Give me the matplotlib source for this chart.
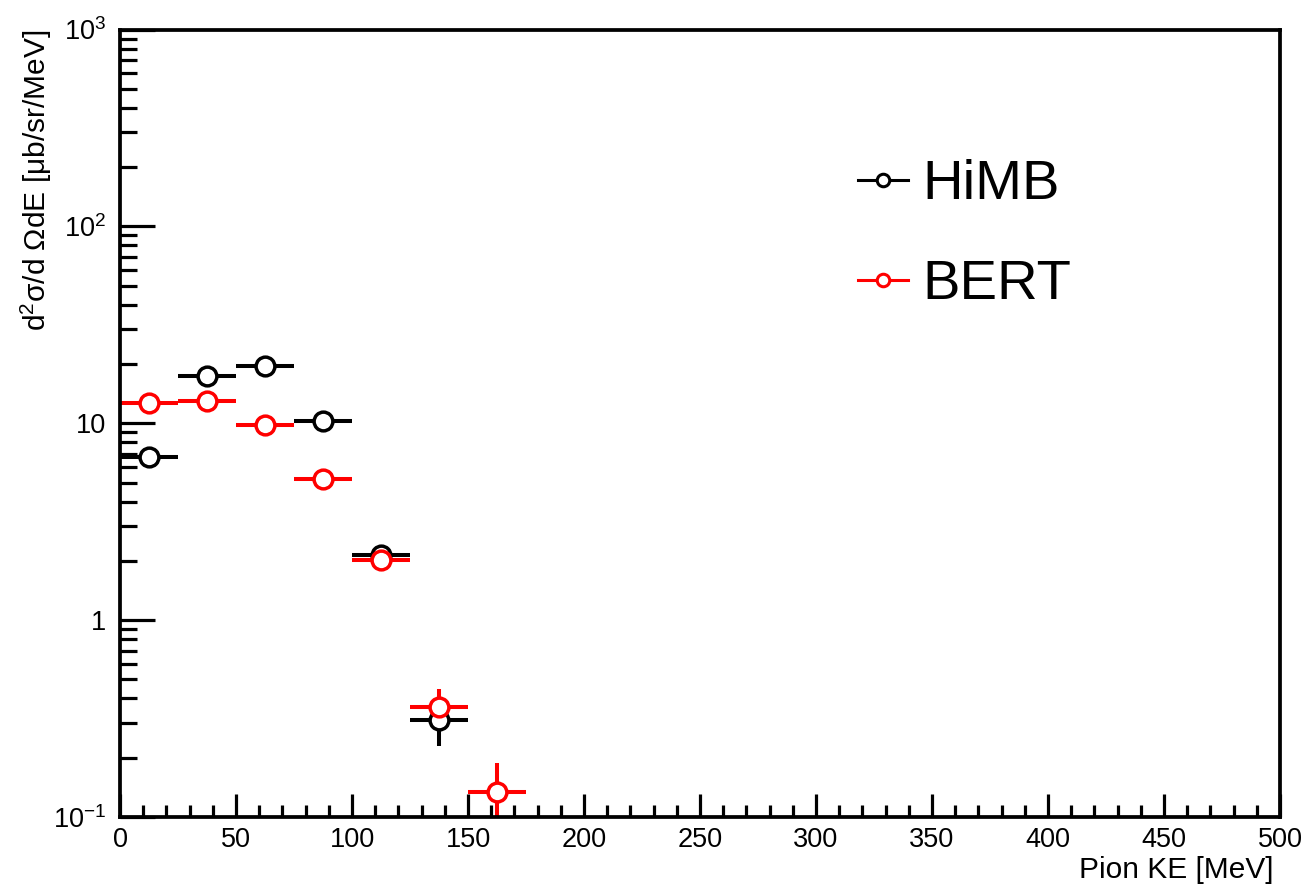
import matplotlib
matplotlib.use("Agg")
import matplotlib.pyplot as plt
from matplotlib.ticker import FixedLocator, LogLocator, MultipleLocator, NullFormatter
from matplotlib.lines import Line2D

plt.rcParams['font.family'] = ['Liberation Sans', 'DejaVu Sans']
plt.rcParams['mathtext.fontset'] = 'custom'
plt.rcParams['mathtext.rm'] = 'Liberation Sans'
plt.rcParams['mathtext.it'] = 'Liberation Sans:italic'
plt.rcParams['mathtext.bf'] = 'Liberation Sans:bold'

# Pion kinetic-energy bins (centres, MeV) and half-width
bin_centers = [12.5, 37.5, 62.5, 87.5, 112.5, 137.5, 162.5]
bin_half_width = 12.5

# HiMB model
himb_x = [12.5, 37.5, 62.5, 87.5, 112.5, 137.5]
himb_y = [6.7, 17.4, 19.5, 10.3, 2.14, 0.31]
himb_err = [0.25, 0.5, 0.55, 0.35, 0.12, 0.08]

# BERT model
bert_x = [12.5, 37.5, 62.5, 87.5, 112.5, 137.5, 162.5]
bert_y = [12.7, 13.0, 9.85, 5.2, 2.02, 0.36, 0.134]
bert_err = [0.35, 0.35, 0.3, 0.2, 0.1, 0.085, 0.055]

x_ticks = [0, 50, 100, 150, 200, 250, 300, 350, 400, 450, 500]
y_ticks = [0.1, 1, 10, 100, 1000]
y_tick_labels = [r'$\mathregular{10^{-1}}$', '1', '10',
                 r'$\mathregular{10^{2}}$', r'$\mathregular{10^{3}}$']

fig = plt.figure(figsize=(13.1, 8.9), dpi=100)
ax = fig.add_axes([120 / 1310, 73 / 890, 1160 / 1310, 787.5 / 890])

common = dict(fmt='o', ms=13.5, mew=2.5, mfc='white', elinewidth=2.9,
              capsize=0)
ax.errorbar(himb_x, himb_y, xerr=bin_half_width, yerr=himb_err,
            color='black', mec='black', ecolor='black', **common)
ax.errorbar(bert_x, bert_y, xerr=bin_half_width, yerr=bert_err,
            color='red', mec='red', ecolor='red', **common)

ax.set_yscale('log')
ax.set_xlim(0, 500)
ax.set_ylim(0.1, 1000)

ax.xaxis.set_major_locator(FixedLocator(x_ticks))
ax.xaxis.set_minor_locator(MultipleLocator(10))
ax.set_xticklabels([str(v) for v in x_ticks])
ax.yaxis.set_major_locator(FixedLocator(y_ticks))
ax.yaxis.set_minor_locator(LogLocator(base=10, subs=range(2, 10)))
ax.yaxis.set_minor_formatter(NullFormatter())
ax.set_yticklabels(y_tick_labels)

ax.tick_params(axis='both', which='both', direction='in', top=False,
               right=False, width=2.3, labelsize=19.5, colors='black')
ax.tick_params(axis='y', which='major', length=25, pad=10)
ax.tick_params(axis='y', which='minor', length=12.5)
ax.tick_params(axis='x', which='major', length=16.5, pad=7)
ax.tick_params(axis='x', which='minor', length=8.5)
for s in ax.spines.values():
    s.set_linewidth(2.7)

ax.set_xlabel('Pion KE [MeV]', fontsize=21.5, ha='right', x=0.993)
ax.xaxis.set_label_coords(0.9945, -0.049)
ax.set_ylabel(r'd$\mathregular{^{2}}$σ/d ΩdE [μb/sr/MeV]', fontsize=21.5,
              ha='right', y=1.0)
ax.yaxis.set_label_coords(-0.057, 1.0)

handles = [
    Line2D([], [], color='black', lw=2.2, marker='o', ms=9, mew=2.2,
           mfc='white', mec='black'),
    Line2D([], [], color='red', lw=2.2, marker='o', ms=9, mew=2.2,
           mfc='white', mec='red'),
]
ax.legend(handles, ['HiMB', 'BERT'], loc='upper left',
          bbox_to_anchor=(0.636, 0.835), frameon=False, fontsize=40.5,
          handlelength=0.9, handletextpad=0.25, labelspacing=0.85,
          borderpad=0, borderaxespad=0)

fig.savefig('out.png', dpi=100, facecolor='white')
